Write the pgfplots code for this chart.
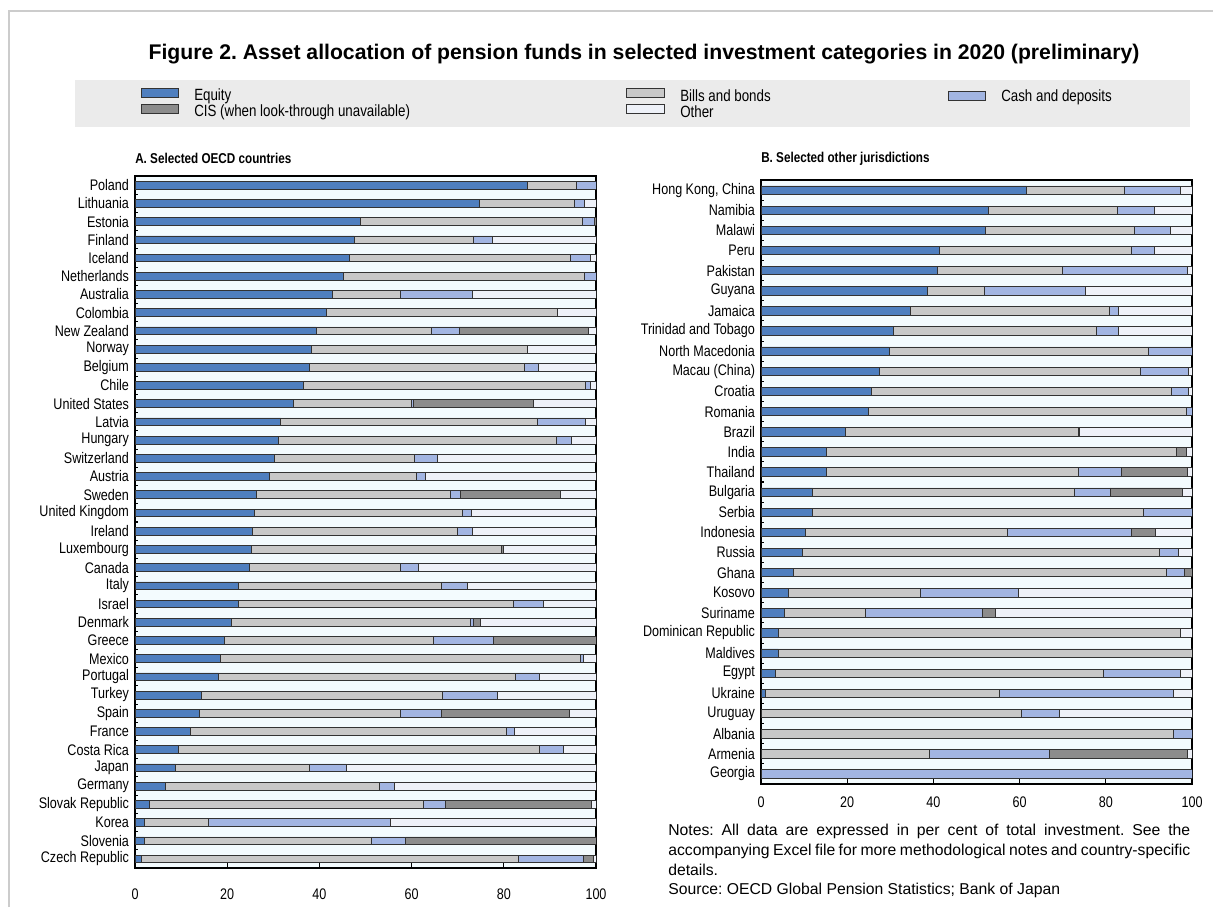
\documentclass[border=0pt]{standalone}
\usepackage{pgfplots}
\pgfplotsset{compat=1.18}
\usepackage{pgfplotstable}
\usepackage{fontspec}
\setmainfont{Liberation Sans}
\newfontfamily\narrow[FakeStretch=0.82]{Liberation Sans}
\frenchspacing
\definecolor{eqc}{HTML}{4F7FBF}
\definecolor{bbc}{HTML}{C8C8C8}
\definecolor{cdc}{HTML}{A2B5E2}
\definecolor{cisc}{HTML}{8C8C8C}
\definecolor{othc}{HTML}{EEF1F8}
\definecolor{bgc}{HTML}{F3FBFE}
\definecolor{outl}{HTML}{333333}
\definecolor{legbg}{HTML}{EBEBEB}

\pgfplotstableread{
i E B C S O
0 85.2 10.6 4.2 0 0
1 74.6 20.6 2.3 0 2.5
2 48.8 48.3 2.5 0.4 0
3 47.5 25.8 4.2 0 22.5
4 46.4 48.0 4.3 0 1.3
5 45.2 52.3 2.5 0 0
6 42.7 14.8 15.7 0 26.8
7 41.5 50.2 0 0 8.3
8 39.3 25.0 6.0 28.1 1.6
9 38.2 47.0 0 0 14.8
10 37.8 46.7 2.9 0 12.6
11 36.5 61.1 1.1 0 1.3
12 34.3 25.7 0.4 25.9 13.7
13 31.6 55.6 10.5 0 2.3
14 31.0 60.4 3.2 0 5.4
15 30.2 30.5 4.8 0 34.5
16 29.2 31.8 2.0 0 37.0
17 26.3 42.2 2.1 21.6 7.8
18 25.9 45.1 1.9 0 27.1
19 25.5 44.5 3.1 0 26.9
20 25.2 54.2 0 0.5 20.1
21 24.9 32.6 3.9 0 38.6
22 22.5 43.9 5.7 0 27.9
23 22.4 59.7 6.4 0 11.5
24 21.0 51.8 0.5 1.7 25.0
25 19.4 45.4 13.0 22.2 0
26 18.5 78.0 0.8 0 2.7
27 18.1 64.3 5.2 0 12.4
28 14.3 52.4 11.9 0 21.4
29 13.9 43.7 8.8 27.8 5.8
30 12.1 68.4 1.7 0 17.8
31 9.3 78.5 5.1 0 7.1
32 8.8 29.0 8.0 0 54.2
33 6.6 46.3 3.4 0 43.7
34 3.1 59.5 4.7 31.6 1.1
35 2.1 13.8 39.4 0 44.7
36 2.0 49.2 7.5 41.3 0
37 1.3 81.9 14.0 2.2 0.6
}\tA

\pgfplotstableread{
i E B C S O
0 61.6 22.6 13.0 0 2.8
1 52.7 29.9 8.6 0 8.8
2 52.1 34.5 8.4 0 5.0
3 41.3 44.7 5.2 0 8.8
4 41.0 28.9 28.9 0 1.2
5 38.6 13.3 23.4 0 24.7
6 34.6 46.3 2.1 0 17.0
7 30.8 47.1 4.9 0 17.2
8 29.7 60.1 10.2 0 0
9 27.4 60.6 11.2 0 0.8
10 25.7 69.5 3.9 0 0.9
11 24.8 73.9 1.3 0 0
12 19.5 54.2 0 0.2 26.1
13 15.2 81.1 0 2.4 1.3
14 15.2 58.4 10.0 15.2 1.2
15 12.0 60.8 8.2 16.7 2.3
16 12.0 76.8 11.2 0 0
17 10.2 47.0 28.7 5.7 8.4
18 9.6 82.8 4.5 0 3.1
19 7.6 86.4 4.2 1.8 0
20 6.4 30.6 22.8 0 40.2
21 5.4 18.9 27.1 2.9 45.7
22 4.1 93.2 0 0 2.7
23 4.0 96.0 0 0 0
24 3.4 76.0 17.8 0 2.8
25 1.1 54.1 40.5 0 4.3
26 0 60.5 8.7 0 30.8
27 0 95.7 4.3 0 0
28 0 39.1 27.9 31.9 1.1
29 0 0 100 0 0
}\tB

\pgfplotsset{
  panel/.style={
    scale only axis, anchor=north west,
    xbar stacked,
    y dir=reverse, xmin=0, xmax=100,
    axis line style={black, line width=0.8pt},
    xtick={0,20,...,100},
    tick align=inside, major tick length=3.8pt, minor tick length=2.5pt,
    tick style={black, line width=0.8pt},
    xtick pos=bottom, ytick pos=left,
    major y tick style={draw=none},
    tick label style={font=\narrow\fontsize{11.5}{12}\selectfont},
    yticklabel style={xshift=-1pt},
    /pgf/number format/assume math mode=true,
  },
  bs/.style={fill=#1, draw=outl, line width=0.5pt},
}

\begin{document}
\begin{tikzpicture}
\begin{scope}[x=0.75pt,y=-0.75pt]
\useasboundingbox (0,0) rectangle (1213,907);
\fill[white] (0,0) rectangle (1213,907);
\draw[black!20, line width=1.2pt] (9,907) -- (9,11) -- (1213,11);
\fill[bgc] (135,176) rectangle (596,868);
\fill[bgc] (761,180) rectangle (1192,784);
\node[font=\bfseries\fontsize{15.9}{18}\selectfont] at (644,54) {Figure 2. Asset allocation of pension funds in selected investment categories in 2020 (preliminary)};
\fill[legbg] (75,80) rectangle (1190,127);
\filldraw[fill=eqc, draw=outl, line width=0.6pt] (141,88) rectangle (178,97);
\filldraw[fill=cisc, draw=outl, line width=0.6pt] (141,104) rectangle (178,113);
\filldraw[fill=bbc, draw=outl, line width=0.6pt] (626,88) rectangle (664,97);
\filldraw[fill=othc, draw=outl, line width=0.6pt] (626,104) rectangle (664,113);
\filldraw[fill=cdc, draw=outl, line width=0.6pt] (948,91) rectangle (985,100);
\begin{scope}[every node/.style={anchor=west, inner sep=0pt, font=\narrow\fontsize{12.2}{13}\selectfont}]
\node at (194,96) {Equity};
\node at (194,112) {CIS (when look-through unavailable)};
\node at (680,96) {Bills and bonds};
\node at (680,112) {Other};
\node at (1001,97) {Cash and deposits};
\end{scope}
\node[anchor=west, inner sep=0pt, font=\narrow\bfseries\fontsize{10.7}{12}\selectfont] at (135,158) {A. Selected OECD countries};
\node[anchor=west, inner sep=0pt, font=\narrow\bfseries\fontsize{10.7}{12}\selectfont] at (761,159) {B. Selected other jurisdictions};
\node[anchor=north west, inner sep=0pt, text width=391.5pt, align=justify, font=\fontsize{11.8}{14.8}\selectfont] at (668,824) {Notes: All data are expressed in per cent of total investment. See the\linebreak accompanying Excel file for more methodological notes and country-specific\linebreak details.\\ Source: OECD Global Pension Statistics; Bank of Japan};
\end{scope}

\begin{axis}[panel,
  at={(101.25pt,-132pt)}, width=345.75pt, height=519pt,
  bar width=5.8pt,
  ymin=-0.5, ymax=37.5,
  ytick={0,1,...,37}, minor ytick={0.5,1.5,...,36.6},
  xticklabel style={yshift=-12pt},
  yticklabels={Poland,Lithuania,Estonia,Finland,Iceland,Netherlands,Australia,Colombia,New Zealand,Norway,Belgium,Chile,United States,Latvia,Hungary,Switzerland,Austria,Sweden,United Kingdom,Ireland,Luxembourg,Canada,Italy,Israel,Denmark,Greece,Mexico,Portugal,Turkey,Spain,France,Costa Rica,Japan,Germany,Slovak Republic,Korea,Slovenia,Czech Republic},
]
\addplot[bs=eqc] table[x=E,y=i] {\tA};
\addplot[bs=bbc] table[x=B,y=i] {\tA};
\addplot[bs=cdc] table[x=C,y=i] {\tA};
\addplot[bs=cisc] table[x=S,y=i] {\tA};
\addplot[bs=othc] table[x=O,y=i] {\tA};
\end{axis}

\begin{axis}[panel,
  at={(570.75pt,-135pt)}, width=323.25pt, height=453pt,
  bar width=6.3pt,
  ymin=-0.5, ymax=29.5,
  ytick={0,1,...,29}, minor ytick={0.5,1.5,...,28.6},
  xticklabel style={yshift=-6pt},
  yticklabels={{Hong Kong, China},Namibia,Malawi,Peru,Pakistan,Guyana,Jamaica,Trinidad and Tobago,North Macedonia,Macau (China),Croatia,Romania,Brazil,India,Thailand,Bulgaria,Serbia,Indonesia,Russia,Ghana,Kosovo,Suriname,Dominican Republic,Maldives,Egypt,Ukraine,Uruguay,Albania,Armenia,Georgia},
]
\addplot[bs=eqc] table[x=E,y=i] {\tB};
\addplot[bs=bbc] table[x=B,y=i] {\tB};
\addplot[bs=cdc] table[x=C,y=i] {\tB};
\addplot[bs=cisc] table[x=S,y=i] {\tB};
\addplot[bs=othc] table[x=O,y=i] {\tB};
\end{axis}
\end{tikzpicture}
\end{document}
